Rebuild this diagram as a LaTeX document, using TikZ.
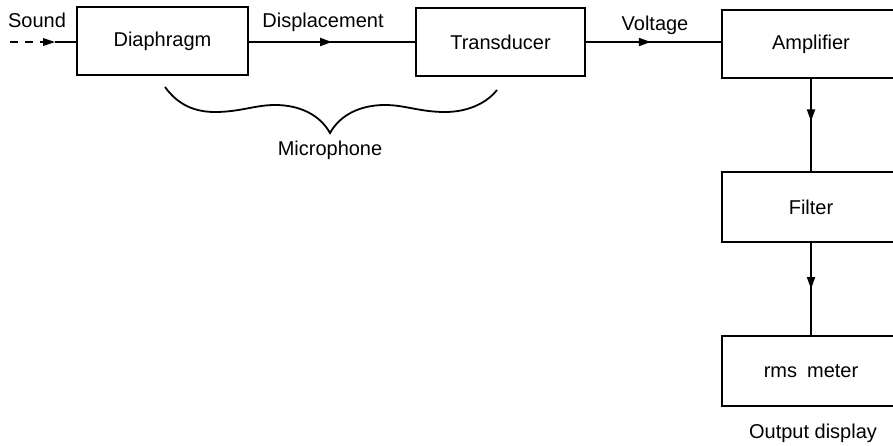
\documentclass[tikz,border=0pt]{standalone}
\usepackage{fontspec}
\setmainfont{Liberation Sans}
\usetikzlibrary{arrows.meta,decorations.markings}
\begin{document}
\begin{tikzpicture}[x=1pt,y=-1pt,
  every node/.style={font=\fontsize{20}{24}\selectfont},
  block/.style={draw, line width=2pt, minimum height=68pt, inner sep=0pt},
  lbl/.style={inner sep=0pt},
  flow/.style={line width=2pt, postaction={decorate},
    decoration={markings, mark=at position #1 with {\arrow{Triangle[length=12pt,width=8pt]}}}},
  flow/.default=0.5,
  brace/.style={line width=1.8pt}]
\useasboundingbox (0,0) rectangle (893,445);
\clip (0,0) rectangle (893,445);

% chain of blocks
\node[block, minimum width=171pt] (dia) at (162.5,41) {Diaphragm};
\node[block, minimum width=169pt] (tra) at (500.5,42) {Transducer};
\node[block, minimum width=178pt] (amp) at (811,44) {Amplifier};
\node[block, minimum width=178pt, minimum height=70pt] (fil) at (811,207) {Filter};
\node[block, minimum width=178pt, minimum height=70pt] (rms) at (811,371) {rms\hspace{0.5em}meter};

% labels
\node[lbl] (snd) at (37,20) {Sound};
\node[lbl] (dsp) at (323,22) {Displacement};
\node[lbl] (vlt) at (655,25) {Voltage};
\node[lbl] (mic) at (330,150) {Microphone};
\node[lbl] (out) at (813,433) {Output display};

% incoming sound
\coordinate (src) at (10,42);
\coordinate (tip) at (55,42);
\draw[line width=2pt, dash pattern=on 8pt off 7pt] (src) -- (43,42);
\draw[line width=2pt] (tip) -- (dia.west |- tip);
\fill (tip) -- ++(-12,-4) -- ++(0,8) -- cycle;

% signal path
\draw[flow] (dia.east |- 0,42) -- (tra.west |- 0,42);
\draw[flow=0.48] (tra.east |- 0,42) -- (amp.west |- 0,42);
\draw[flow=0.46] (amp.south) -- (fil.north);
\draw[flow] (fil.south) -- (rms.north);

% brace under the microphone parts
\draw[brace] (165,87) .. controls (178,105) and (195,112) .. (215,112)
  .. controls (240,112) and (255,105) .. (275,105)
  .. controls (300,105) and (320,115) .. (330,133)
  .. controls (340,115) and (360,105) .. (385,105)
  .. controls (405,105) and (420,112) .. (445,112)
  .. controls (465,112) and (485,105) .. (497,90);
\end{tikzpicture}
\end{document}
